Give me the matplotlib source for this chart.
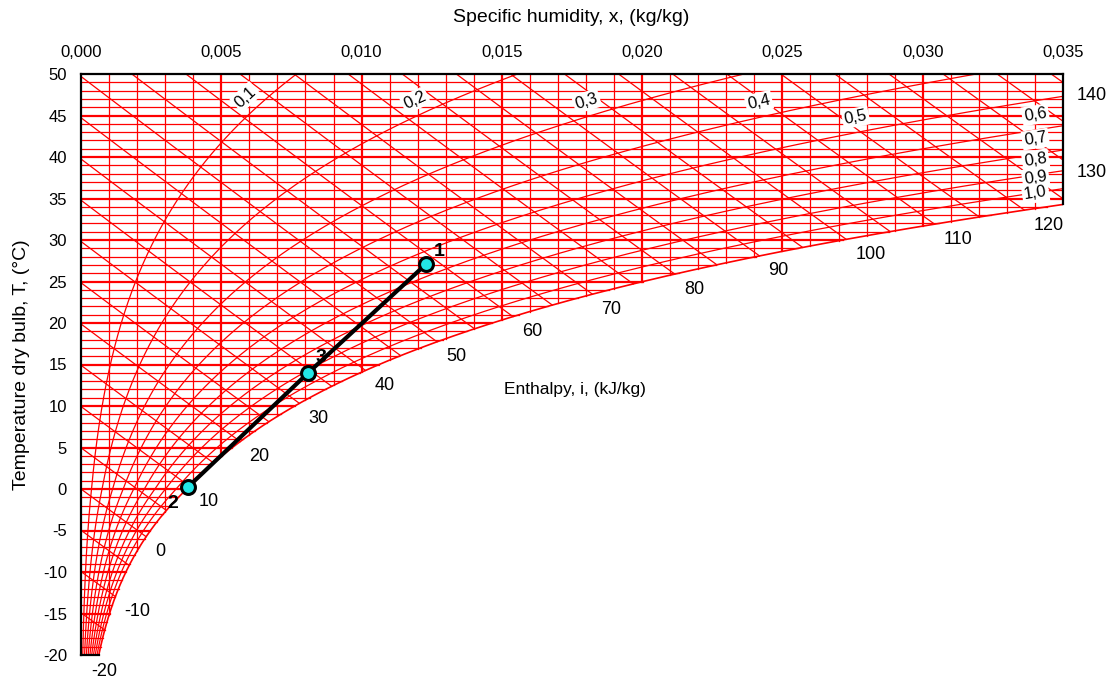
import numpy as np
import matplotlib.pyplot as plt

plt.rcParams['font.family'] = ['Liberation Sans', 'DejaVu Sans']

P = 101.325  # kPa, atmospheric pressure

# chart values
temp_ticks = [-20, -15, -10, -5, 0, 5, 10, 15, 20, 25, 30, 35, 40, 45, 50]
x_ticks = [0.000, 0.005, 0.010, 0.015, 0.020, 0.025, 0.030, 0.035]
grid_temps = list(range(-19, 50))                # 1 °C lines
grid_x = [i / 1000 for i in range(1, 35)]        # 0.001 kg/kg lines
rh_values = [0.1, 0.2, 0.3, 0.4, 0.5, 0.6, 0.7, 0.8, 0.9, 1.0]
rh_labels = ["0,1", "0,2", "0,3", "0,4", "0,5", "0,6", "0,7", "0,8", "0,9", "1,0"]
enthalpy_values = list(range(-20, 145, 5))
enthalpy_labels = [-20, -10, 0, 10, 20, 30, 40, 50, 60, 70, 80, 90, 100, 110, 120, 130, 140]
point_names = ["1", "2", "3"]
point_x = [0.0123, 0.0038, 0.0081]
point_t = [27.1, 0.2, 14.0]
path_order = [1, 2, 0]   # 2 -> 3 -> 1

X_MAX, T_MIN, T_MAX = 0.035, -20, 50
RED = "#ff0000"


def p_ws(t):
    t = np.asarray(t, dtype=float)
    return np.where(t >= 0, 0.61094 * np.exp(17.625 * t / (t + 243.04)),
                    0.61115 * np.exp(22.452 * t / (272.55 + t)))


def x_of(t, phi):
    pw = phi * p_ws(t)
    return 0.622 * pw / (P - pw)


def t_of_h(h, x):
    return (h - 2501 * x) / (1.006 + 1.86 * x)


t_fine = np.linspace(T_MIN, T_MAX, 14001)
xs_fine = x_of(t_fine, 1.0)


def t_sat(x):
    return np.interp(x, xs_fine, t_fine)


t_corner = float(t_sat(X_MAX))

fig = plt.figure(figsize=(11.1, 6.82), dpi=100)
ax = fig.add_axes([81 / 1110, 27 / 682, 982 / 1110, 581 / 682])
ax.set_xlim(0, X_MAX)
ax.set_ylim(T_MIN, T_MAX)
for s in ax.spines.values():
    s.set_visible(False)
ax.xaxis.tick_top()
ax.set_xticks(x_ticks)
ax.set_xticklabels([("%.3f" % v).replace(".", ",") for v in x_ticks])
ax.set_yticks(temp_ticks)
ax.set_yticklabels([str(v) for v in temp_ticks])
ax.tick_params(axis="x", length=0, pad=10, labelsize=12)
ax.tick_params(axis="y", length=0, pad=10, labelsize=12)

THIN, THICK = 0.9, 1.6

# horizontal temperature lines
for t in grid_temps:
    xe = min(float(x_of(t, 1.0)), X_MAX)
    ax.plot([0, xe], [t, t], color=RED, lw=THICK if t % 5 == 0 else THIN, zorder=1)

# vertical humidity lines
for i, x in enumerate(grid_x):
    te = max(float(t_sat(x)), T_MIN)
    ax.plot([x, x], [te, T_MAX], color=RED, lw=THICK if (i + 1) % 5 == 0 else THIN, zorder=1)

# enthalpy lines
h_end = {}
for h in enthalpy_values:
    xs = max(0.0, (h - 1.006 * T_MAX) / (2501 + 1.86 * T_MAX))
    f = lambda x: x - float(x_of(max(t_of_h(h, x), T_MIN), 1.0))
    if f(X_MAX) < 0:
        xe = X_MAX
    else:
        lo, hi = xs, X_MAX
        for _ in range(60):
            mid = 0.5 * (lo + hi)
            if f(mid) < 0:
                lo = mid
            else:
                hi = mid
        xe = lo
    # keep the line above the bottom edge
    x_bottom = (h - 1.006 * T_MIN) / (2501 + 1.86 * T_MIN)
    xe = min(xe, x_bottom) if x_bottom > xs else xe
    xx = np.linspace(xs, xe, 50)
    ax.plot(xx, t_of_h(h, xx), color=RED, lw=THIN, zorder=1)
    h_end[h] = (xe, float(t_of_h(h, xe)))

# relative humidity lines
for phi in rh_values:
    t_top = T_MAX
    if x_of(T_MAX, phi) > X_MAX:
        xp = x_of(t_fine, phi)
        t_top = float(np.interp(X_MAX, xp, t_fine))
    tt = np.linspace(T_MIN, t_top, 600)
    ax.plot(x_of(tt, phi), tt, color=RED, lw=THIN if phi < 1 else 1.2, zorder=1)

# frame
ax.plot([0, 0], [T_MIN, T_MAX], color="black", lw=1.6, zorder=3, clip_on=False)
ax.plot([0, X_MAX], [T_MAX, T_MAX], color="black", lw=1.6, zorder=3, clip_on=False)
ax.plot([X_MAX, X_MAX], [t_corner, T_MAX], color="black", lw=1.6, zorder=3, clip_on=False)
ax.plot([0, float(x_of(T_MIN, 1.0))], [T_MIN, T_MIN], color="black", lw=1.6, zorder=3, clip_on=False)

# enthalpy labels
for h in enthalpy_labels:
    xe, te = h_end[h]
    if xe >= X_MAX:
        off = (14, -13)
    elif h == -20:
        off = (9, -17)
    else:
        off = (9, -15)
    ax.annotate(str(h), (xe, te), xytext=off, textcoords="offset pixels",
                ha="left", va="center", fontsize=13, annotation_clip=False)

# relative humidity labels, placed above the curve
fig.canvas.draw()
trans = ax.transData
rh_label_t = {0.1: 45.9, 0.2: 45.2, 0.3: 45.0, 0.4: 44.85, 0.5: 43.0}
for phi, lab in zip(rh_values, rh_labels):
    if phi in rh_label_t:
        t0 = rh_label_t[phi]
    else:
        t0 = float(np.interp(0.0341, x_of(t_fine, phi), t_fine))
    p0 = trans.transform((float(x_of(t0 - 0.3, phi)), t0 - 0.3))
    p1 = trans.transform((float(x_of(t0 + 0.3, phi)), t0 + 0.3))
    pc = trans.transform((float(x_of(t0, phi)), t0))
    a = np.arctan2(p1[1] - p0[1], p1[0] - p0[0])
    pos = pc + 15 * np.array([-np.sin(a), np.cos(a)])
    xd, yd = trans.inverted().transform(pos)
    ax.text(xd, yd, lab, rotation=np.degrees(a), rotation_mode="anchor",
            ha="center", va="center", fontsize=12, zorder=4,
            bbox=dict(boxstyle="square,pad=0.12", fc="white", ec="none"))

# process path
px = [point_x[i] for i in path_order]
pt = [point_t[i] for i in path_order]
ax.plot(px, pt, color="black", lw=3, zorder=5)
ax.plot(point_x, point_t, "o", ms=10, mfc="#22e5e5", mec="black", mew=2.2, zorder=6)
label_off = {"1": (13, 13), "2": (-15, -16), "3": (13, 15)}
for n, x, t in zip(point_names, point_x, point_t):
    ax.annotate(n, (x, t), xytext=label_off[n], textcoords="offset pixels",
                ha="center", va="center", fontsize=14, fontweight="bold", zorder=7)

ax.text(0.0176, 12.0, "Enthalpy, i, (kJ/kg)", ha="center", va="center", fontsize=12.5)
fig.text(571 / 1110, 1 - 18 / 682, "Specific humidity, x, (kg/kg)", ha="center", va="center", fontsize=14)
fig.text(22 / 1110, 1 - 365 / 682, "Temperature dry bulb, T, (°C)", ha="center", va="center",
         rotation=90, fontsize=14)

plt.savefig("out.png", dpi=100)
